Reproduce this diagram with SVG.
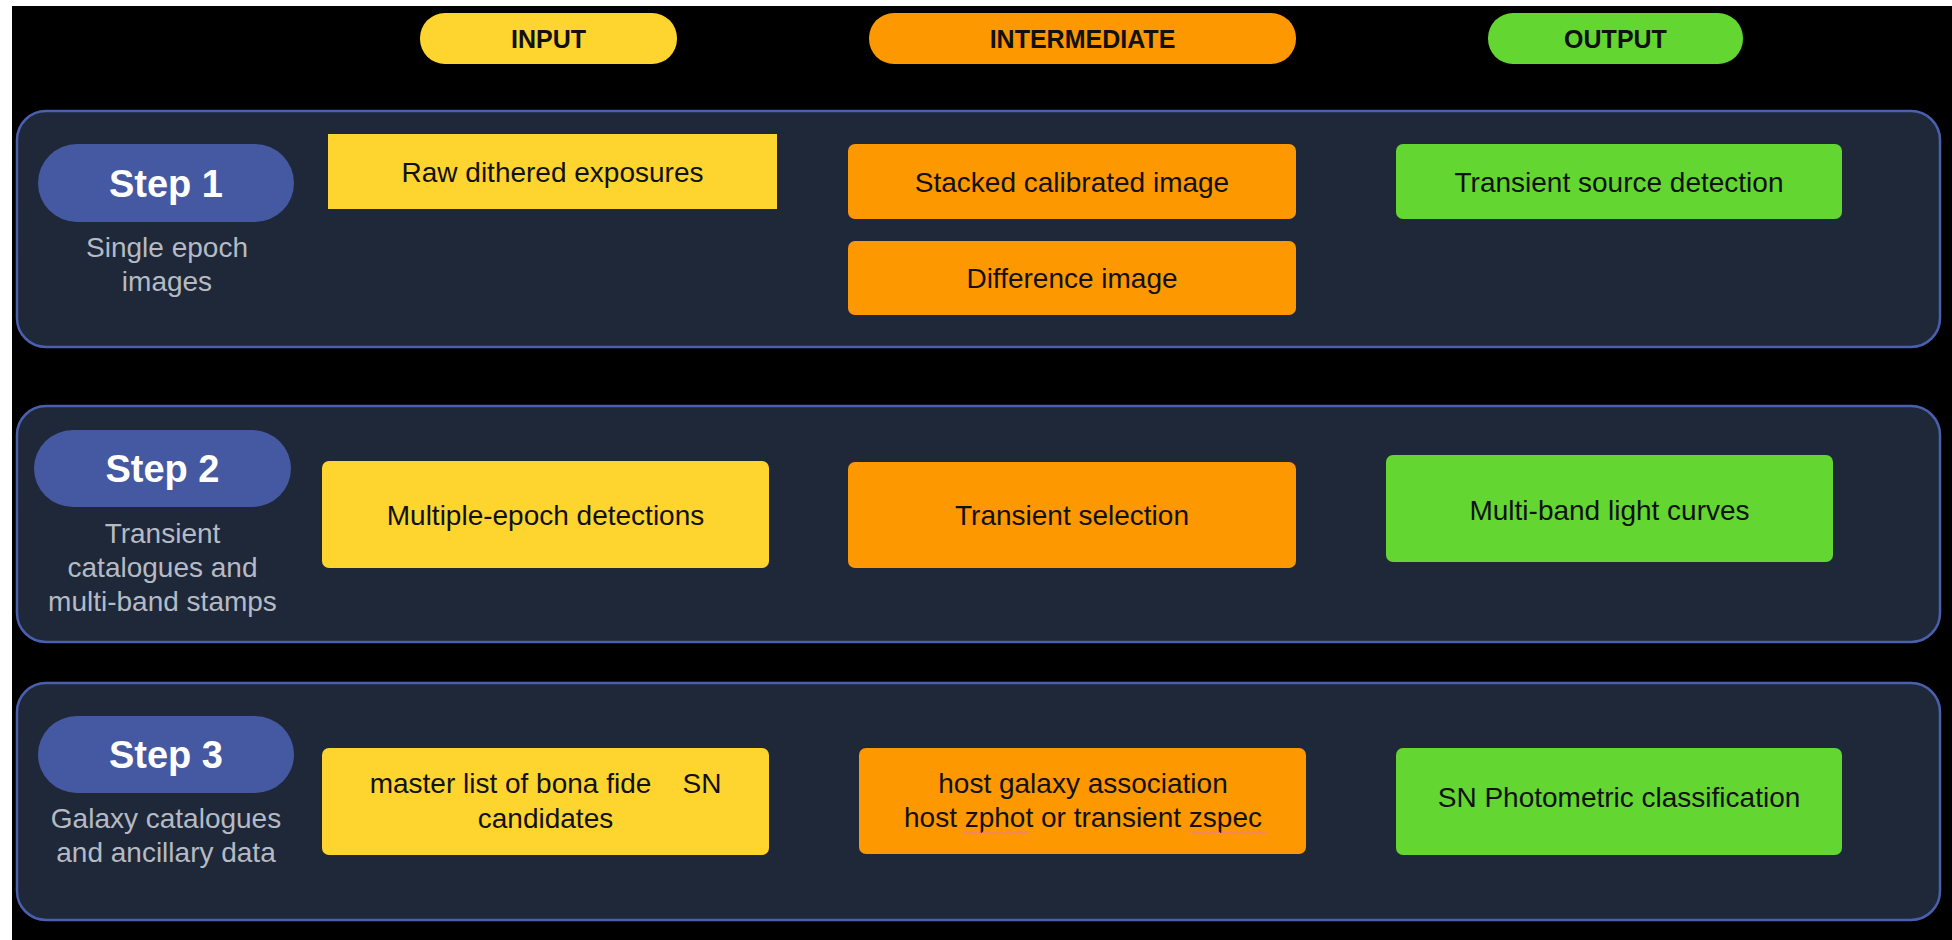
<svg xmlns="http://www.w3.org/2000/svg" width="1952" height="940" viewBox="0 0 1952 940">
<defs>
<style>
text{font-family:"Liberation Sans",Arial,sans-serif;text-anchor:middle;white-space:pre}
.panel{fill:#1e2839;stroke:#4a5fae;stroke-width:2.5}
.pill{fill:#4459a1}
.step{font-size:38px;font-weight:bold;fill:#ffffff}
.sub{font-size:28px;fill:#b5bac4}
.hdr{font-size:25px;font-weight:bold;fill:#111111}
.bt{font-size:28px;fill:#111111}
.y{fill:#fed52f}
.o{fill:#fd9800}
.g{fill:#63d631}
.wavy{fill:none;stroke:#f08080;stroke-width:1.3}
</style>
</defs>
<rect x="0" y="0" width="1952" height="940" fill="#ffffff"/>
<rect x="12" y="6" width="1940" height="934" fill="#000000"/>

<g id="header-input"><rect x="420" y="13" width="257" height="51" rx="25" class="y"/><text x="548.5" y="48" class="hdr">INPUT</text></g>
<g id="header-intermediate"><rect x="869" y="13" width="427" height="51" rx="25" class="o"/><text x="1082.5" y="48" class="hdr">INTERMEDIATE</text></g>
<g id="header-output"><rect x="1488" y="13" width="255" height="51" rx="25" class="g"/><text x="1615.5" y="48" class="hdr">OUTPUT</text></g>

<g id="step1">
<rect x="17" y="111" width="1923" height="236" rx="29" class="panel"/>
<rect x="38" y="144" width="256" height="78" rx="39" class="pill"/>
<text x="166" y="197" class="step">Step 1</text>
<text x="167" y="257" class="sub">Single epoch</text>
<text x="167" y="291" class="sub">images</text>
</g>
<g id="raw"><rect x="328" y="134" width="449" height="75" class="y"/><text x="552.5" y="182" class="bt">Raw dithered exposures</text></g>
<g id="stacked"><rect x="848" y="144" width="448" height="75" rx="7" class="o"/><text x="1072" y="192" class="bt">Stacked calibrated image</text></g>
<g id="difference"><rect x="848" y="241" width="448" height="74" rx="7" class="o"/><text x="1072" y="288" class="bt">Difference image</text></g>
<g id="transient-source"><rect x="1396" y="144" width="446" height="75" rx="7" class="g"/><text x="1619" y="192" class="bt">Transient source detection</text></g>

<g id="step2">
<rect x="17" y="406" width="1923" height="236" rx="29" class="panel"/>
<rect x="34" y="430" width="257" height="77" rx="39" class="pill"/>
<text x="162.5" y="482" class="step">Step 2</text>
<text x="162.5" y="543" class="sub">Transient</text>
<text x="162.5" y="577" class="sub">catalogues and</text>
<text x="162.5" y="611" class="sub">multi-band stamps</text>
</g>
<g id="multiple-epoch"><rect x="322" y="461" width="447" height="107" rx="7" class="y"/><text x="545.5" y="525" class="bt">Multiple-epoch detections</text></g>
<g id="transient-selection"><rect x="848" y="462" width="448" height="106" rx="7" class="o"/><text x="1072" y="525" class="bt">Transient selection</text></g>
<g id="light-curves"><rect x="1386" y="455" width="447" height="107" rx="7" class="g"/><text x="1609.5" y="520" class="bt">Multi-band light curves</text></g>

<g id="step3">
<rect x="17" y="683" width="1923" height="237" rx="29" class="panel"/>
<rect x="38" y="716" width="256" height="77" rx="39" class="pill"/>
<text x="166" y="768" class="step">Step 3</text>
<text x="166" y="828" class="sub">Galaxy catalogues</text>
<text x="166" y="862" class="sub">and ancillary data</text>
</g>
<g id="master-list"><rect x="322" y="748" width="447" height="107" rx="7" class="y"/><text x="545.5" y="793" class="bt">master list of bona fide    SN</text><text x="545.5" y="828" class="bt">candidates</text></g>
<g id="host-galaxy"><rect x="859" y="748" width="447" height="106" rx="7" class="o"/><text x="1083" y="793" class="bt">host galaxy association</text><text x="1083" y="827" class="bt">host zphot or transient zspec</text>
<path class="wavy" d="M963 834 l3 -2.5 l3 2.5 l3 -2.5 l3 2.5 l3 -2.5 l3 2.5 l3 -2.5 l3 2.5 l3 -2.5 l3 2.5 l3 -2.5 l3 2.5 l3 -2.5 l3 2.5 l3 -2.5 l3 2.5 l3 -2.5 l3 2.5 l3 -2.5 l3 2.5 l3 -2.5 l3 2.5"/>
<path class="wavy" d="M1191 834 l3 -2.5 l3 2.5 l3 -2.5 l3 2.5 l3 -2.5 l3 2.5 l3 -2.5 l3 2.5 l3 -2.5 l3 2.5 l3 -2.5 l3 2.5 l3 -2.5 l3 2.5 l3 -2.5 l3 2.5 l3 -2.5 l3 2.5 l3 -2.5 l3 2.5 l3 -2.5 l3 2.5 l3 -2.5 l3 2.5 l3 -2.5"/>
</g>
<g id="classification"><rect x="1396" y="748" width="446" height="107" rx="7" class="g"/><text x="1619" y="807" class="bt">SN Photometric classification</text></g>
<g id="connectors"></g>
</svg>
